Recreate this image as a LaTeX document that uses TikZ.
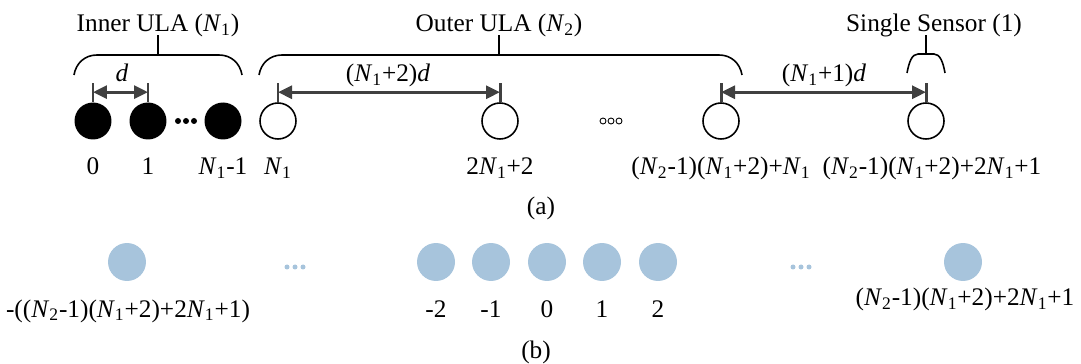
\documentclass[tikz,border=0pt]{standalone}
\usepackage{fontspec}
\setmainfont{Liberation Serif}
\usetikzlibrary{arrows.meta,positioning}
\definecolor{dimgray}{HTML}{404040}
\definecolor{lagblue}{HTML}{A7C4DC}
\newcommand{\Nsub}[1]{\textit{N}\textsubscript{#1}}

\begin{document}
\begin{tikzpicture}[x=0.02cm,y=-0.02cm,font=\fontsize{14.4}{17}\selectfont,
    solidel/.style={circle,fill=black,minimum size=0.74cm,inner sep=0pt},
    hollowel/.style={circle,draw,line width=0.9pt,minimum size=0.72cm,inner sep=0pt},
    lagel/.style={circle,fill=lagblue,minimum size=0.76cm,inner sep=0pt},
    lbl/.style={anchor=base,inner sep=0pt},
    dimtick/.style={line width=1.7pt,draw=dimgray},
    dimarrow/.style={{Triangle[length=0.28cm,width=0.26cm]}-{Triangle[length=0.28cm,width=0.26cm]},line width=1.7pt,draw=dimgray},
    bracket/.style={line width=0.9pt}]
    \useasboundingbox (0,0) rectangle (1081,364);
    % (a) inner ULA
    \node[solidel] (s0) at (93,121) {};
    \node[solidel] (s1) at (148,121) {};
    \node[solidel] (s2) at (223,121) {};
    \foreach \x in {178,186,194} \fill (\x,121) circle (0.06cm);
    % (a) outer ULA and single sensor
    \node[hollowel] (o1) at (278,121) {};
    \node[hollowel] (o2) at (500,121) {};
    \node[hollowel] (o3) at (721,121) {};
    \node[hollowel] (o4) at (926,121) {};
    \foreach \x in {603,611,619} \draw[line width=0.5pt] (\x,121) circle (0.06cm);
    % indices
    \node[lbl] (n0) at (93,175) {0};
    \node[lbl] (n1) at (148,175) {1};
    \node[lbl] (n2) at (223,175) {\Nsub{1}-1};
    \node[lbl] (n3) at (278,175) {\Nsub{1}};
    \node[lbl] (n4) at (500,175) {2\Nsub{1}+2};
    \node[lbl] (n5) at (721,175) {(\Nsub{2}-1)(\Nsub{1}+2)+\Nsub{1}};
    \node[lbl] (n6) at (932,175) {(\Nsub{2}-1)(\Nsub{1}+2)+2\Nsub{1}+1};
    \node[lbl] (capa) at (541,215) {(a)};
    % spacings
    \foreach \n in {s0,s1,o1,o2,o3,o4}
        \draw[dimtick] (\n.north) -- ++(0,-10) coordinate (\n-a) -- ++(0,-9);
    \draw[dimarrow] (s0-a) -- (s1-a);
    \draw[dimarrow] (o1-a) -- (o2-a);
    \draw[dimarrow] (o3-a) -- (o4-a);
    \node[lbl] (dd) at (122,82) {\textit{d}};
    \node[lbl] (d2) at (388,82) {(\Nsub{1}+2)\textit{d}};
    \node[lbl] (d1) at (824,82) {(\Nsub{1}+1)\textit{d}};
    % brackets
    \draw[bracket] (74,75) .. controls (76,63) and (85,55) .. (97,55) -- (219,55) .. controls (231,55) and (240,63) .. (242,75);
    \draw[bracket] (158,55) -- (158,35);
    \node[lbl] (tin) at (158,32) {Inner ULA (\Nsub{1})};
    \draw[bracket] (259,75) .. controls (261,63) and (270,55) .. (282,55) -- (719,55) .. controls (731,55) and (740,63) .. (742,75);
    \draw[bracket] (499,55) -- (499,35);
    \node[lbl] (tout) at (499,32) {Outer ULA (\Nsub{2})};
    \draw[bracket] (907,73) .. controls (909,62) and (912,54) .. (918,54) -- (934,54) .. controls (940,54) and (943,62) .. (945,73);
    \draw[bracket] (926,54) -- (926,35);
    \node[lbl] (tss) at (934,32) {Single Sensor (1)};
    % (b) difference coarray
    \node[lagel] (b0) at (127,262) {};
    \node[lagel] (b1) at (436,262) {};
    \node[lagel] (b2) at (491,262) {};
    \node[lagel] (b3) at (547,262) {};
    \node[lagel] (b4) at (602,262) {};
    \node[lagel] (b5) at (658,262) {};
    \node[lagel] (b6) at (963,262) {};
    \foreach \x in {287,295,303,793,801,809} \fill[lagblue] (\x,267) circle (0.05cm);
    \node[lbl] (m0) at (128,317) {-((\Nsub{2}-1)(\Nsub{1}+2)+2\Nsub{1}+1)};
    \node[lbl] (m1) at (436,317) {-2};
    \node[lbl] (m2) at (491,317) {-1};
    \node[lbl] (m3) at (547,317) {0};
    \node[lbl] (m4) at (602,317) {1};
    \node[lbl] (m5) at (658,317) {2};
    \node[lbl] (m6) at (965,306) {(\Nsub{2}-1)(\Nsub{1}+2)+2\Nsub{1}+1};
    \node[lbl] (capb) at (536,358) {(b)};
\end{tikzpicture}
\end{document}
